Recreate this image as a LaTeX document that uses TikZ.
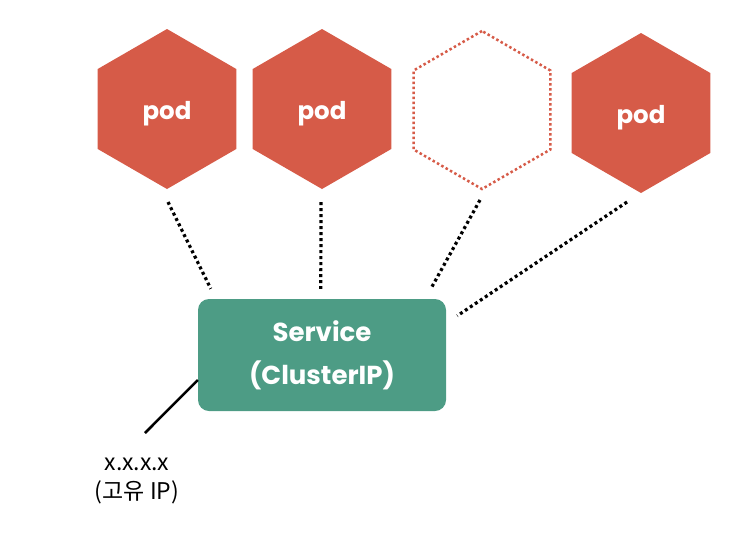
\documentclass[tikz,border=0pt]{standalone}
\usepackage{fontspec}
\setmainfont{Poppins}
\newfontfamily\krfont{Noto Sans CJK KR}
\usetikzlibrary{shapes.geometric,calc}
\definecolor{podred}{HTML}{D65B48}
\definecolor{svcgreen}{HTML}{4D9C85}
\begin{document}
\begin{tikzpicture}[x=1pt,y=-1pt,
  hexbase/.style={regular polygon, regular polygon sides=6, shape border rotate=30,
    minimum size=160pt, inner sep=0pt, outer sep=0pt},
  hexpod/.style={hexbase, fill=podred, text=white, text height=21pt, text depth=0pt,
    font=\bfseries\fontsize{24.5}{24}\selectfont},
  hexempty/.style={hexbase, minimum size=158pt, draw=podred, line width=2.5pt,
    dash pattern=on 2.5pt off 2.5pt},
  svcbox/.style={rectangle, rounded corners=11pt, fill=svcgreen, text=white,
    minimum width=248pt, minimum height=112pt, align=center,
    font=\bfseries\fontsize{26}{43}\selectfont},
  dotline/.style={line width=3.2pt, dash pattern=on 3pt off 3pt, black},
  ipline/.style={line width=2.5pt, black},
  iplabel/.style={align=center, font=\krfont\fontsize{23}{29}\selectfont}
]
\useasboundingbox (0,0) rectangle (746,536);
\node[hexpod] (p1) at (167,109) {pod};
\node[hexpod] (p2) at (322,109) {pod};
\node[hexempty] (p3) at (482,110) {};
\node[hexpod] (p4) at (641,113) {pod};
\node[svcbox] (svc) at (322,355) {Service\\(ClusterIP)};
\node[iplabel] (ip) at (137,481) {x.x.x.x\\(고유 IP)};
\coordinate (ipend) at (145,433);

\draw[dotline] ($(p1.center)+(1,93)$) -- ($(svc.north west)+(13,-10)$);
\draw[dotline] ($(p2.center)+(-1,93)$) -- ($(svc.north west)+(123,-10)$);
\draw[dotline] ($(p3.center)+(-2,90)$) -- ($(svc.north west)+(233,-10)$);
\draw[dotline] ($(p4.center)+(-14,89)$) -- ($(svc.north east)+(11,17)$);
\draw[ipline] ($(svc.west)+(0,25)$) -- (ipend);
\end{tikzpicture}
\end{document}
